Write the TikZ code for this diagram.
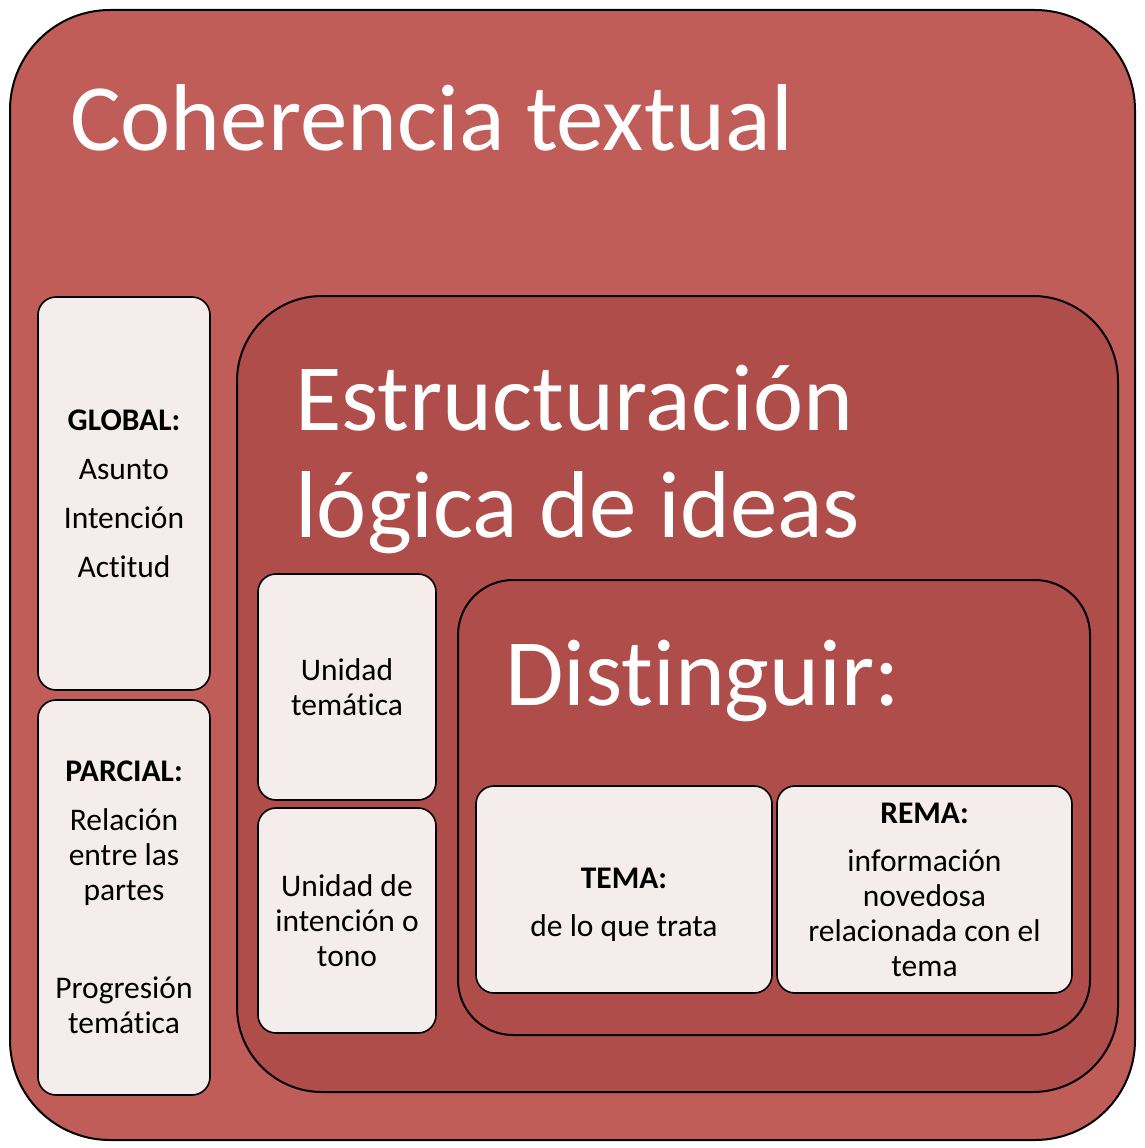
\documentclass[tikz,border=0pt]{standalone}
\usepackage{fontspec}
\setmainfont{Carlito}[Ligatures=NoCommon]
\definecolor{outerred}{RGB}{192,93,89}
\definecolor{innerred}{RGB}{174,77,74}
\definecolor{paper}{RGB}{245,236,236}

\begin{document}
\begin{tikzpicture}[x=1pt,y=-1pt,
  panel/.style={draw=black,line width=2pt,rounded corners=#1,inner sep=0pt},
  card/.style={draw=black,line width=1.6pt,fill=paper,rounded corners=18pt,inner sep=0pt,
    align=center,font=\fontsize{31.5}{35}\selectfont},
  title/.style={anchor=base west,text=white,inner sep=0pt,align=left,
    font=\fontsize{95}{107}\selectfont}]

  \useasboundingbox (0,0) rectangle (1144,1148);

  % Define the outer panel and its title
  \node[panel=100pt,fill=outerred,minimum width=1125pt,minimum height=1130pt] (coherencia) at (572.5,575) {};
  \node[title] (coherenciatitle) at (70,150) {Coherencia textual};

  % Define the two cards on the left
  \node[card,minimum width=172pt,minimum height=393pt] (global) at (124,493.5)
    {\textbf{GLOBAL:}\\[14pt]Asunto\\[14pt]Intención\\[14pt]Actitud};
  \node[card,minimum width=172pt,minimum height=395pt] (parcial) at (124,897.5)
    {\textbf{PARCIAL:}\\[14pt]Relación\\entre las\\partes\\[63pt]Progresión\\temática};

  % Define the middle panel and its title
  \node[panel=85pt,fill=innerred,minimum width=881pt,minimum height=796pt] (estructura) at (677.5,694) {};
  \node[title] (estructuratitle) at (295,537) {Estructuración\\lógica de ideas};

  \node[card,minimum width=178pt,minimum height=226pt] (unidadtem) at (347,687) {Unidad\\temática};
  \node[card,minimum width=178pt,minimum height=225pt] (unidadint) at (347,920.5) {Unidad de\\intención o\\tono};

  % Define the inner panel with TEMA and REMA
  \node[panel=55pt,fill=innerred,minimum width=632pt,minimum height=455pt] (distinguir) at (774,807.5) {};
  \node[title] (distinguirtitle) at (505,705) {Distinguir:};

  \node[card,minimum width=296pt,minimum height=207pt] (tema) at (624,889.5)
    {\mbox{}\\[17pt]\textbf{TEMA:}\\[13pt]de lo que trata};
  \node[card,minimum width=295pt,minimum height=207pt] (rema) at (924.5,889.5)
    {\textbf{REMA:}\\[13pt]información\\novedosa\\relacionada con el\\tema};

\end{tikzpicture}
\end{document}
